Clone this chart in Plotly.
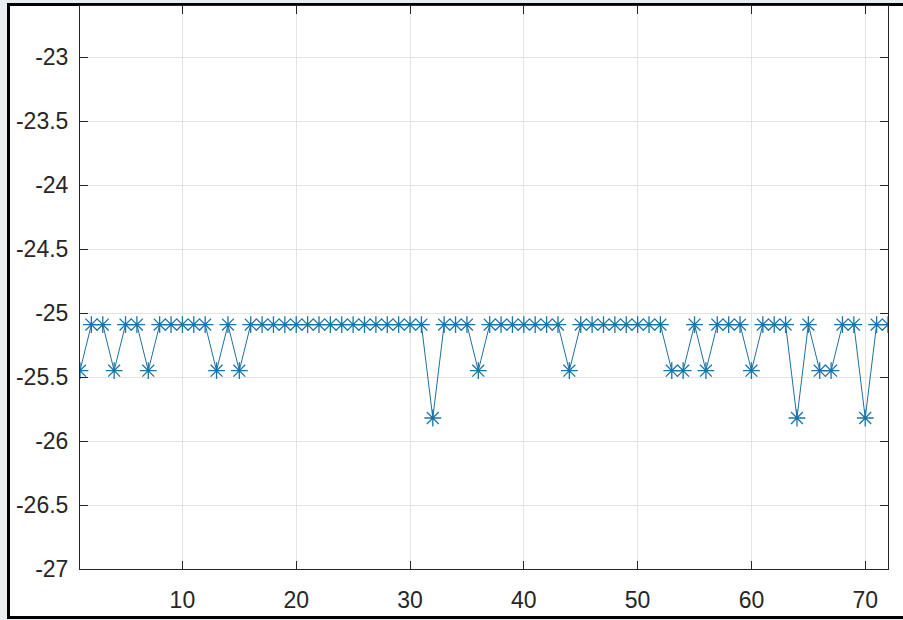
import plotly.graph_objects as go

# Data
x_values = list(range(1, 73))
HI, MID, LO = -25.09, -25.45, -25.82
y_values = [
    MID, HI, HI, MID, HI, HI, MID, HI, HI, HI,   # 1-10
    HI, HI, MID, HI, MID, HI, HI, HI, HI, HI,    # 11-20
    HI, HI, HI, HI, HI, HI, HI, HI, HI, HI,      # 21-30
    HI, LO, HI, HI, HI, MID, HI, HI, HI, HI,     # 31-40
    HI, HI, HI, MID, HI, HI, HI, HI, HI, HI,     # 41-50
    HI, HI, MID, MID, HI, MID, HI, HI, HI, MID,  # 51-60
    HI, HI, HI, LO, HI, MID, MID, HI, HI, LO,    # 61-70
    HI, HI,                                      # 71-72
]
x_tickvals = [10, 20, 30, 40, 50, 60, 70]
x_ticktext = ["10", "20", "30", "40", "50", "60", "70"]
y_tickvals = [-27, -26.5, -26, -25.5, -25, -24.5, -24, -23.5, -23]
y_ticktext = ["-27", "-26.5", "-26", "-25.5", "-25", "-24.5", "-24", "-23.5", "-23"]

W, H = 903, 620
ml, mr, mt, mb = 80, 15, 6, 51
pw, ph = W - ml - mr, H - mt - mb

def px_x(p):
    return (p - ml) / pw

def px_y(p):
    return 1 - (p - mt) / ph

fig = go.Figure()
fig.add_trace(go.Scatter(
    x=x_values, y=y_values, mode="lines+markers",
    line=dict(color="#1f6f9f", width=1),
    marker=dict(symbol="asterisk-open", size=14,
                line=dict(color="#1b74a8", width=1.3), color="#1b74a8"),
    showlegend=False,
))

# outer white panel with black frame
fig.add_shape(type="rect", xref="paper", yref="paper", layer="below",
              x0=px_x(8.5), x1=px_x(910), y0=px_y(617.5), y1=px_y(4.5),
              fillcolor="white", line=dict(color="black", width=3))

axis_common = dict(
    showline=True, linecolor="#262626", linewidth=1, mirror="ticks",
    ticks="inside", ticklen=8, tickcolor="#262626", tickwidth=1,
    showgrid=True, gridcolor="#e3e3e3", gridwidth=1, zeroline=False,
    tickfont=dict(family="Liberation Sans, Arial", size=23, color="#262626"),
)

fig.update_layout(
    width=W, height=H,
    margin=dict(l=ml, r=mr, t=mt, b=mb, pad=0),
    paper_bgcolor="#e9edf1", plot_bgcolor="white",
    xaxis=dict(range=[1, 72], tickvals=x_tickvals, ticktext=x_ticktext,
               ticklabelstandoff=10, **axis_common),
    yaxis=dict(range=[-27, -22.6], tickvals=y_tickvals, ticktext=y_ticktext,
               ticklabelstandoff=6, **axis_common),
)

fig.write_html("out.html", config={"displayModeBar": False},
               post_script="document.body.style.margin='0';")
